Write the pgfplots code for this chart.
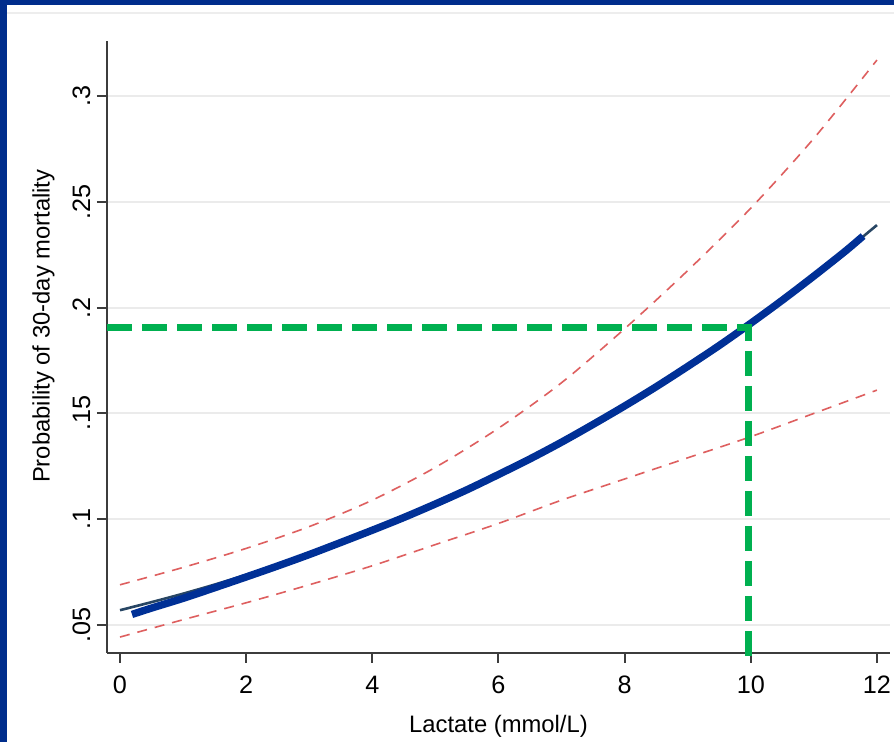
\documentclass[border=0pt]{standalone}
\usepackage{fontspec}
\setmainfont{Liberation Sans}
\usepackage{pgfplots}
\pgfplotsset{compat=1.18}
\definecolor{navyframe}{RGB}{0,45,140}
\definecolor{fitblue}{RGB}{0,48,150}
\definecolor{thinline}{RGB}{40,70,100}
\definecolor{cired}{RGB}{222,95,95}
\definecolor{refgreen}{RGB}{0,176,80}
\definecolor{axisgray}{RGB}{60,60,60}
\begin{document}
\fontsize{11.9}{14}\selectfont
\begin{tikzpicture}[x=1pt,y=1pt]
\fill[white] (0,0) rectangle (447,371);
\useasboundingbox (0,0) rectangle (447,371);
\fill[navyframe] (0,368.5) rectangle (447,371);
\fill[navyframe] (0,0) rectangle (3.5,371);
\draw[black!7, line width=1pt] (3.5,364.5) -- (447,364.5);
\begin{axis}[
  at={(53.5pt,44.5pt)}, anchor=south west,
  scale only axis, width=391.5pt, height=306pt,
  xmin=-0.206, xmax=12.207, ymin=0.03677, ymax=0.326,
  axis x line*=bottom, axis y line*=left,
  axis line style={-, axisgray, line width=1pt},
  xtick={0,2,4,6,8,10,12},
  ytick={0.05,0.1,0.15,0.2,0.25,0.3},
  yticklabels={.05,.1,.15,.2,.25,.3},
  tick align=outside, major tick length=5pt,
  tick style={axisgray, line width=1pt},
  minor tick num=0,
  ymajorgrids, grid style={black!8, line width=1pt},
  /pgf/number format/assume math mode=true,
  tick label style={font=\fontsize{12.6}{14}\selectfont},
  yticklabel style={rotate=90, anchor=base},
  yticklabel shift=3.5pt,
  xticklabel shift=2.5pt,
  label style={font=\fontsize{11.9}{14}\selectfont},
  xlabel={Lactate (mmol/L)},
  xlabel style={at={(axis description cs:0.5,-0.12)}, anchor=center},
  ylabel={Probability of 30-day mortality},
  ylabel style={at={(axis description cs:-0.081,0.534)}, anchor=center},
  clip=false,
]
% upper confidence limit
\addplot[cired, line width=0.8pt, dash pattern=on 5pt off 4pt, smooth] coordinates {
(0,0.069) (1,0.0772) (2,0.0862) (3,0.0965) (4,0.1090) (5,0.1245) (6,0.1430)
(7,0.1645) (8,0.1900) (9,0.2175) (10,0.2470) (11,0.2800) (12,0.317)};
% lower confidence limit
\addplot[cired, line width=0.8pt, dash pattern=on 5pt off 4pt, smooth] coordinates {
(0,0.0443) (1,0.0525) (2,0.0605) (3,0.069) (4,0.078) (5,0.088) (6,0.098)
(7,0.109) (8,0.119) (9,0.129) (10,0.139) (11,0.150) (12,0.161)};
% fitted probability (original thin line)
\addplot[thinline, line width=1.3pt, smooth] coordinates {
(0,0.0570) (0.5,0.0608) (1,0.0648) (1.5,0.0691) (2,0.0737) (2.5,0.0785)
(3,0.0837) (3.5,0.0890) (4,0.0948) (4.5,0.1008) (5,0.1072) (5.5,0.1139)
(6,0.1211) (6.5,0.1285) (7,0.1364) (7.5,0.1448) (8,0.1535) (8.5,0.1626)
(9,0.1722) (9.5,0.1821) (10,0.1926) (10.5,0.2035) (11,0.2149) (11.5,0.2267)
(12,0.2390)};
% thick highlighted fitted curve
\addplot[fitblue, line width=3.7pt, smooth] coordinates {
(0.19,0.0550) (0.5,0.0580) (1,0.0626) (1.5,0.0676) (2,0.0727) (2.5,0.0779)
(3,0.0833) (3.5,0.0890) (4,0.0948) (4.5,0.1008) (5,0.1072) (5.5,0.1139)
(6,0.1211) (6.5,0.1285) (7,0.1364) (7.5,0.1448) (8,0.1535) (8.5,0.1626)
(9,0.1722) (9.5,0.1821) (10,0.1926) (10.5,0.2035) (11,0.2149) (11.5,0.2267)
(11.78,0.2338)};
% reference lines at lactate = 10
\addplot[refgreen, line width=3.5pt, dash pattern=on 12.5pt off 5pt] coordinates {
(-0.206,0.1908) (9.96,0.1908) (9.96,0.0330)};
\end{axis}
\end{tikzpicture}
\end{document}
